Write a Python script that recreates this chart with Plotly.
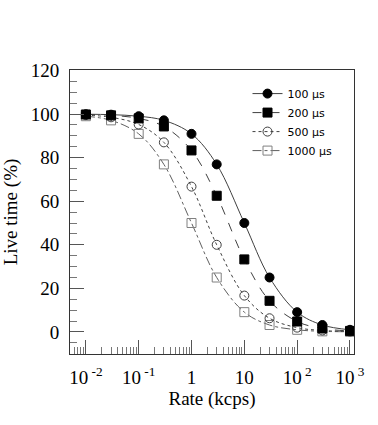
import plotly.graph_objects as go

rate = [0.01, 0.03, 0.1, 0.3, 1, 3, 10, 30, 100, 300, 1000]
live_100 = [99.9, 99.7, 99.0, 97.1, 90.9, 76.9, 50.0, 25.0, 9.1, 3.2, 1.0]
live_200 = [99.8, 99.4, 98.0, 94.3, 83.3, 62.5, 33.3, 14.3, 4.8, 1.6, 0.5]
live_500 = [99.5, 98.5, 95.2, 87.0, 66.7, 40.0, 16.7, 6.3, 2.0, 0.7, 0.2]
live_1000 = [99.0, 97.1, 90.9, 76.9, 50.0, 25.0, 9.1, 3.2, 1.0, 0.3, 0.1]
names = ["100 µs", "200 µs", "500 µs", "1000 µs"]
x_tick_vals = [0.01, 0.1, 1, 10, 100, 1000]
x_tick_text = ["10<sup> -2</sup>", "10<sup> -1</sup>", "1", "10", "10<sup> 2</sup>", "10<sup> 3</sup>"]

series = [
    (live_1000, names[3], "square-open", "#808080", "#606060", "dashdot"),
    (live_500, names[2], "circle-open", "#404040", "#404040", "dot"),
    (live_200, names[1], "square", "black", "#404040", "dash"),
    (live_100, names[0], "circle", "black", "#404040", "solid"),
]

fig = go.Figure()
for vals, nm, sym, mcol, lcol, dash in series:
    fig.add_trace(go.Scatter(
        x=rate, y=vals, name=nm, mode="lines+markers",
        line=dict(color=lcol, width=1, dash=dash, shape="spline", smoothing=1.0),
        marker=dict(symbol=sym, size=9, color=mcol, line=dict(color=mcol, width=1)),
    ))

axis_font = dict(family="Liberation Serif", size=19, color="black")
fig.update_layout(
    width=378, height=425,
    margin=dict(l=70, r=24, t=70, b=71),
    paper_bgcolor="white", plot_bgcolor="white",
    showlegend=True,
    legend=dict(
        x=0.625, y=0.968, xanchor="left", yanchor="top",
        traceorder="reversed",
        font=dict(family="DejaVu Sans", size=11, color="black"),
        bgcolor="rgba(0,0,0,0)", tracegroupgap=0,
    ),
    xaxis=dict(
        type="log", range=[-2.3, 3.076], automargin=False,
        showline=True, mirror=True, linecolor="#333", linewidth=1,
        ticks="inside", ticklen=14, tickcolor="#555", tickwidth=1,
        tickmode="array", tickvals=x_tick_vals, ticktext=x_tick_text,
        showgrid=False, zeroline=False,
        tickfont=axis_font, ticklabelstandoff=6,
        minor=dict(ticks="inside", ticklen=7, tickcolor="#777", dtick="D1", showgrid=False),
        title=dict(text="Rate (kcps)", font=axis_font, standoff=0),
    ),
    yaxis=dict(
        range=[-10.1, 120.2], automargin=False,
        showline=True, mirror=True, linecolor="#333", linewidth=1,
        ticks="inside", ticklen=14, tickcolor="#555", tickwidth=1,
        tick0=0, dtick=20, showgrid=False, zeroline=False,
        tickfont=axis_font, ticklabelstandoff=6,
        minor=dict(ticks="inside", ticklen=7, tickcolor="#777", dtick=5, showgrid=False),
        title=dict(text="Live time (%)", font=axis_font, standoff=8),
    ),
)

fig.write_html("out.html", config={"displayModeBar": False},
               post_script="document.body.style.margin='0';")
